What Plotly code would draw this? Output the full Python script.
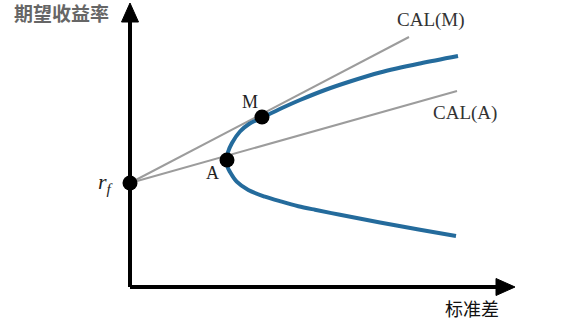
import plotly.graph_objects as go

# ---- data (x = standard deviation, y = expected return) ----
frontier_sigma = [32.8, 29.0, 25.0, 22.0, 19.5, 17.0, 15.2, 13.27, 11.9, 11.0, 10.2, 9.8,
                  9.65, 9.75, 10.0, 10.67, 11.83, 13.5, 15.17, 16.83, 18.5, 21.0, 25.0,
                  29.0, 32.6]
frontier_ret = [23.1, 22.35, 21.45, 20.55, 19.7, 18.7, 17.9, 16.97, 16.3, 15.55, 14.4, 13.5,
                12.7, 12.0, 11.5, 10.53, 9.7, 9.03, 8.53, 8.08, 7.72, 7.22, 6.45,
                5.72, 5.1]
rf = 10.4
point_names = ["r_f", "A", "M"]
point_sigma = [0.0, 9.7, 13.2]
point_ret = [rf, 12.7, 17.0]
cal_m_end = [27.9, 25.0]
cal_a_end = [32.7, 19.6]
axis_x_max = 38.5
axis_y_max = 28.4

BLUE = "#246b9c"
GRAY = "#9c9c9c"
SERIF = "Liberation Serif"

fig = go.Figure()

# CAL lines
fig.add_trace(go.Scatter(x=[0, cal_m_end[0]], y=[rf, cal_m_end[1]], mode="lines",
                         line=dict(color=GRAY, width=2), hoverinfo="skip"))
fig.add_trace(go.Scatter(x=[0, cal_a_end[0]], y=[rf, cal_a_end[1]], mode="lines",
                         line=dict(color=GRAY, width=2), hoverinfo="skip"))
# efficient frontier
fig.add_trace(go.Scatter(x=frontier_sigma, y=frontier_ret, mode="lines",
                         line=dict(color=BLUE, width=4, shape="spline", smoothing=0.9),
                         hoverinfo="skip"))
# points
fig.add_trace(go.Scatter(x=point_sigma, y=point_ret, mode="markers",
                         marker=dict(color="black", size=15), hoverinfo="skip"))

# axes with arrows
shapes = [
    dict(type="line", x0=0, y0=0, x1=0, y1=axis_y_max - 1.6, line=dict(color="black", width=4)),
    dict(type="line", x0=0, y0=0, x1=axis_x_max - 1.6, y1=0, line=dict(color="black", width=4)),
    dict(type="path",
         path=f"M -0.85 {axis_y_max-1.9} L 0.85 {axis_y_max-1.9} L 0 {axis_y_max} Z",
         fillcolor="black", line=dict(color="black", width=1)),
    dict(type="path",
         path=f"M {axis_x_max-1.9} -0.85 L {axis_x_max-1.9} 0.85 L {axis_x_max} 0 Z",
         fillcolor="black", line=dict(color="black", width=1)),
]

ann = [
    dict(x=-6.9, y=27.5, text="<b>期望收益率</b>", showarrow=False, xanchor="center", yanchor="middle",
         font=dict(family="Noto Sans CJK SC", size=19, color="#666666")),
    dict(x=34.2, y=-2.1, text="标准差", showarrow=False, xanchor="center", yanchor="middle",
         font=dict(family="Noto Sans CJK SC", size=18, color="#111111")),
    dict(x=30.1, y=26.7, text="CAL(M)", showarrow=False, xanchor="center", yanchor="middle",
         font=dict(family=SERIF, size=19, color="#333333")),
    dict(x=33.5, y=17.4, text="CAL(A)", showarrow=False, xanchor="center", yanchor="middle",
         font=dict(family=SERIF, size=19, color="#333333")),
    dict(x=point_sigma[2] - 1.2, y=point_ret[2] + 1.5, text="M", showarrow=False,
         xanchor="center", yanchor="middle", font=dict(family=SERIF, size=18, color="#222222")),
    dict(x=point_sigma[1] - 1.5, y=point_ret[1] - 1.3, text="A", showarrow=False,
         xanchor="center", yanchor="middle", font=dict(family=SERIF, size=18, color="#222222")),
    dict(x=-2.4, y=rf, text="<i>r</i><sub><i>f</i></sub>", showarrow=False,
         xanchor="center", yanchor="middle", font=dict(family=SERIF, size=22, color="#222222")),
]

fig.update_layout(
    width=571, height=328,
    margin=dict(l=0, r=0, t=0, b=0),
    paper_bgcolor="white", plot_bgcolor="white",
    showlegend=False,
    xaxis=dict(range=[-13, 44.1], visible=False, fixedrange=True),
    yaxis=dict(range=[-4.1, 28.7], visible=False, fixedrange=True),
    shapes=shapes, annotations=ann,
)

fig.write_html("out.html")
